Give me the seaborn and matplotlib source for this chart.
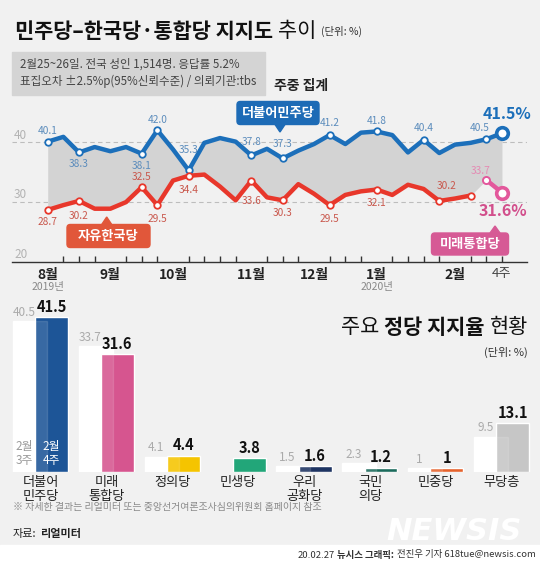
import numpy as np
import pandas as pd
import matplotlib
matplotlib.use("Agg")
import matplotlib.pyplot as plt
from matplotlib.patches import Rectangle, FancyBboxPatch
from matplotlib.transforms import blended_transform_factory
import seaborn as sns

# ---- data: weekly trend (Aug 2019 wk1 .. Feb 2020 wk4) ----
weeks = list(range(30))
minju = [40.1, 40.9, 38.3, 39.2, 38.5, 39.2, 38.1, 42.0, 38.8, 35.3,
         39.9, 40.7, 40.1, 37.8, 38.9, 37.3, 38.6, 39.7, 41.2, 39.7,
         41.6, 41.8, 41.2, 38.3, 40.4, 38.2, 39.6, 39.9, 40.5, 41.5]
hanguk_weeks = list(range(28))
hanguk = [28.7, 29.5, 30.2, 28.9, 28.9, 30.0, 32.5, 29.5, 33.6, 34.4,
          34.6, 32.6, 30.3, 33.6, 30.8, 30.3, 33.0, 31.4, 29.5, 31.2,
          31.8, 32.1, 31.2, 32.9, 32.2, 30.2, 30.6, 31.1]
mirae_weeks = [28, 29]
mirae = [33.7, 31.6]

month_weeks = [0, 4, 8, 13, 17, 21, 26]
month_labels = ["8월", "9월", "10월", "11월", "12월", "1월", "2월"]

# labelled points: week -> (dx px, dy px)
minju_marks = {0: (0, 11), 2: (0, -12), 6: (0, -12), 7: (0, 10), 9: (0, 20),
               13: (0, 13), 15: (0, 14), 18: (0, 12), 21: (0, 10),
               24: (0, 12), 28: (-7, 11)}
hanguk_marks = {0: (0, -12), 2: (0, -15), 6: (0, 10), 7: (0, -14), 9: (0, -14),
                13: (0, -20), 15: (0, -13), 18: (0, -14), 21: (0, -13),
                25: (7, 15)}

# ---- data: party support bars ----
parties = ["더불어\n민주당", "미래\n통합당", "정의당", "민생당",
           "우리\n공화당", "국민\n의당", "민중당", "무당층"]
prev_week = [40.5, 33.7, 4.1, np.nan, 1.5, 2.3, 1, 9.5]
this_week = [41.5, 31.6, 4.4, 3.8, 1.6, 1.2, 1, 13.1]
party_colors = ["#1d5597", "#d6558f", "#f5c400", "#22a679",
                "#1e3462", "#1b6a5b", "#e5622c", "#c6c6c6"]

BLUE = "#1c6fba"
RED = "#e8372b"
PINK = "#e3589c"
BG = "#f1f1f1"
W, H = 540, 562

sns.set_theme(style="white")
plt.rcParams["font.family"] = ["Noto Sans CJK KR", "DejaVu Sans"]

fig = plt.figure(figsize=(W / 100, H / 100), dpi=100, facecolor=BG)
renderer = fig.canvas.get_renderer()


def fx(x):
    return x / W


def fy(y):
    return 1 - y / H


def rich(x, y, parts, ha="left", gap=4):
    """parts: list of (text, size, weight, color); y is centre in px."""
    objs = []
    for s, size, weight, color in parts:
        t = fig.text(0, fy(y), s, size=size, weight=weight, color=color, va="center")
        objs.append(t)
    widths = [t.get_window_extent(renderer).width for t in objs]
    total = sum(widths) + gap * (len(objs) - 1)
    cur = x if ha == "left" else x - total
    for t, w in zip(objs, widths):
        t.set_x(fx(cur))
        cur += w + gap


# ---- header ----
rich(15, 31, [("민주당–한국당·통합당 지지도", 15, "bold", "#111111"),
              ("추이", 15, "normal", "#111111"),
              ("(단위: %)", 7.5, "normal", "#333333")], gap=5)
fig.patches.append(Rectangle((fx(12), fy(95)), fx(253), (95 - 52) / H,
                             transform=fig.transFigure, color="#d4d4d4", zorder=0))
fig.text(fx(20), fy(64), "2월25~26일. 전국 성인 1,514명. 응답률 5.2%",
         size=8.3, color="#444444", va="center")
fig.text(fx(20), fy(81), "표집오차 ±2.5%p(95%신뢰수준) / 의뢰기관:tbs",
         size=8.3, color="#444444", va="center")
fig.text(fx(274), fy(86), "주중 집계", size=10, weight="bold", color="#222222", va="center")

# ---- line chart ----
ax = fig.add_axes([fx(12), fy(262), (527 - 12) / W, (262 - 118.3) / H])
ax.set_facecolor("none")
ax.set_xlim(-2.28, 30.6)
ax.set_ylim(20, 44)

lower = hanguk + mirae
ax.fill_between(weeks, lower, minju, color="#d3d3d3", lw=0, zorder=1)
for v in (30, 40):
    ax.axhline(v, color="#bdbdbd", lw=0.8, ls=(0, (4, 3)), zorder=0.5)
    ax.text(-2.15, v + 1.2, str(v), size=8.5, color="#b3b3b3", va="center")
ax.text(-2.15, 21.2, "20", size=8.5, color="#b3b3b3", va="center")

sns.lineplot(x=weeks, y=minju, color=BLUE, lw=3.2, ax=ax, zorder=3)
sns.lineplot(x=hanguk_weeks, y=hanguk, color=RED, lw=3.2, ax=ax, zorder=3)
sns.lineplot(x=mirae_weeks, y=mirae, color=PINK, lw=3.2, ax=ax, zorder=3)

mk = list(minju_marks)
sns.scatterplot(x=mk, y=[minju[w] for w in mk], s=22, color="white",
                edgecolor=BLUE, linewidth=1.3, ax=ax, zorder=4)
hk = list(hanguk_marks) + [27]
sns.scatterplot(x=hk, y=[hanguk[w] for w in hk], s=22, color="white",
                edgecolor=RED, linewidth=1.3, ax=ax, zorder=4)
sns.scatterplot(x=[28], y=[mirae[0]], s=26, color="white",
                edgecolor=PINK, linewidth=1.4, ax=ax, zorder=4)
sns.scatterplot(x=[29], y=[minju[29]], s=70, color="white",
                edgecolor=BLUE, linewidth=2.6, ax=ax, zorder=4)
sns.scatterplot(x=[29], y=[mirae[1]], s=70, color="white",
                edgecolor=PINK, linewidth=2.6, ax=ax, zorder=4)

for w, (dx, dy) in minju_marks.items():
    ax.annotate(f"{minju[w]:.1f}", (w, minju[w]), xytext=(dx * 0.72, dy * 0.72),
                textcoords="offset points", ha="center", va="center",
                size=7.3, color="#5b8cbc", zorder=5)
for w, (dx, dy) in hanguk_marks.items():
    ax.annotate(f"{hanguk[w]:.1f}", (w, hanguk[w]), xytext=(dx * 0.72, dy * 0.72),
                textcoords="offset points", ha="center", va="center",
                size=7.3, color="#c9574c", zorder=5)
ax.annotate(f"{mirae[0]:.1f}", (28, mirae[0]), xytext=(-4, 6.5),
            textcoords="offset points", ha="center", va="center",
            size=7.3, color="#e58ab3", zorder=5)
ax.annotate(f"{minju[29]:.1f}%", (29, minju[29]), xytext=(4, 14),
            textcoords="offset points", ha="center", va="center",
            size=11.5, weight="bold", color=BLUE, zorder=5)
ax.annotate(f"{mirae[1]:.1f}%", (29, mirae[1]), xytext=(1, -13),
            textcoords="offset points", ha="center", va="center",
            size=11.5, weight="bold", color="#d24f8c", zorder=5)

# axis / ticks
for s in ("left", "right", "top"):
    ax.spines[s].set_visible(False)
ax.spines["bottom"].set_color("#333333")
ax.spines["bottom"].set_linewidth(1.0)
ax.set_yticks([])
ax.set_xticks(month_weeks)
ax.set_xticklabels(month_labels, size=10, weight="bold", color="#222222")
ax.set_xticks([w for w in weeks if w not in month_weeks], minor=True)
ax.tick_params(axis="x", which="major", direction="in", length=9, width=1,
               color="#333333", pad=4)
ax.tick_params(axis="x", which="minor", direction="in", length=4.5, width=1,
               color="#333333", bottom=True)
trans = blended_transform_factory(ax.transData, ax.transAxes)
ax.text(29, -0.08, "4주", transform=trans, ha="center", va="center",
        size=9.5, color="#444444")
ax.text(0, -0.175, "2019년", transform=trans, ha="center", va="center",
        size=7.5, color="#888888")
ax.text(21, -0.175, "2020년", transform=trans, ha="center", va="center",
        size=7.5, color="#888888")


def tag(cx, cy, w, h, text, color, tip, size=9.5):
    fig.patches.append(FancyBboxPatch((fx(cx - w / 2), fy(cy + h / 2)), w / W, h / H,
                                      boxstyle="round,pad=0,rounding_size=0.006",
                                      transform=fig.transFigure, color=color, zorder=6))
    tx, ty = tip
    base = cy + h / 2 if ty > cy else cy - h / 2
    tri = plt.Polygon([(fx(tx - 5), fy(base)), (fx(tx + 5), fy(base)), (fx(tx), fy(ty))],
                      closed=True, transform=fig.transFigure, color=color, zorder=6)
    fig.patches.append(tri)
    fig.text(fx(cx), fy(cy), text, size=size, weight="bold", color="white",
             ha="center", va="center", zorder=7)


tag(278, 113, 82, 23, "더불어민주당", "#1d6bb6", (280, 132))
tag(108.5, 236, 83, 23, "자유한국당", "#e1573a", (106.7, 217))
tag(470, 244, 77, 22, "미래통합당", "#d65a95", (495, 226))

# ---- bar chart ----
ax2 = fig.add_axes([0, fy(472), 1, (472 - 304) / H])
ax2.set_facecolor("none")
ax2.axis("off")
xs = np.arange(len(parties))
ax2.set_xlim(-40.5 / 65.9, 499.5 / 65.9)
ax2.set_ylim(0, 45)

ax2.bar(xs - 0.163, prev_week, width=0.516, color="white", zorder=1)
ax2.bar(xs + 0.167, this_week, width=0.5, color=party_colors, zorder=2)
ax2.bar(xs - 0.163, prev_week, width=0.516, color="white", alpha=0.12, zorder=3)

for i in xs:
    if not np.isnan(prev_week[i]):
        ax2.text(i - 0.25, prev_week[i] + 0.6, f"{prev_week[i]:g}", ha="center",
                 va="bottom", size=8.5, color="#aaaaaa")
    ax2.text(i + 0.167, this_week[i] + 0.6, f"{this_week[i]:g}", ha="center",
             va="bottom", size=10.5, weight="bold", color="#111111")
    ax2.text(i, -1.2, parties[i], ha="center", va="top", size=9.5,
             color="#222222", linespacing=1.05)
ax2.text(-0.25, 5, "2월\n3주", ha="center", va="center", size=8.5,
         color="#9a9a9a", linespacing=1.05, zorder=4)
ax2.text(0.167, 5, "2월\n4주", ha="center", va="center", size=8.5,
         color="white", linespacing=1.05, zorder=4)

rich(528, 327, [("주요", 15, "normal", "#111111"),
                ("정당 지지율", 15, "bold", "#111111"),
                ("현황", 15, "normal", "#111111")], ha="right", gap=5)
fig.text(fx(528), fy(352), "(단위: %)", size=8, color="#333333", ha="right", va="center")

# ---- footer ----
fig.text(fx(13), fy(507), "※ 자세한 결과는 리얼미터 또는 중앙선거여론조사심의위원회 홈페이지 참조",
         size=7.2, color="#8a8a8a", va="center")
rich(13, 534, [("자료:", 8, "normal", "#222222"), ("리얼미터", 8, "bold", "#222222")], gap=3)
fig.text(fx(454), fy(531), "NEWSIS", size=22, weight="bold", style="italic",
         color="white", ha="center", va="center", family="DejaVu Sans")
fig.patches.append(Rectangle((0, 0), 1, (H - 545) / H, transform=fig.transFigure,
                             color="white", zorder=0))
rich(536, 555, [("20.02.27", 6.8, "normal", "#333333"),
                ("뉴시스 그래픽:", 6.8, "bold", "#333333"),
                ("전진우 기자 618tue@newsis.com", 6.8, "normal", "#333333")],
     ha="right", gap=3)

fig.savefig("out.png", dpi=100, facecolor=BG)
